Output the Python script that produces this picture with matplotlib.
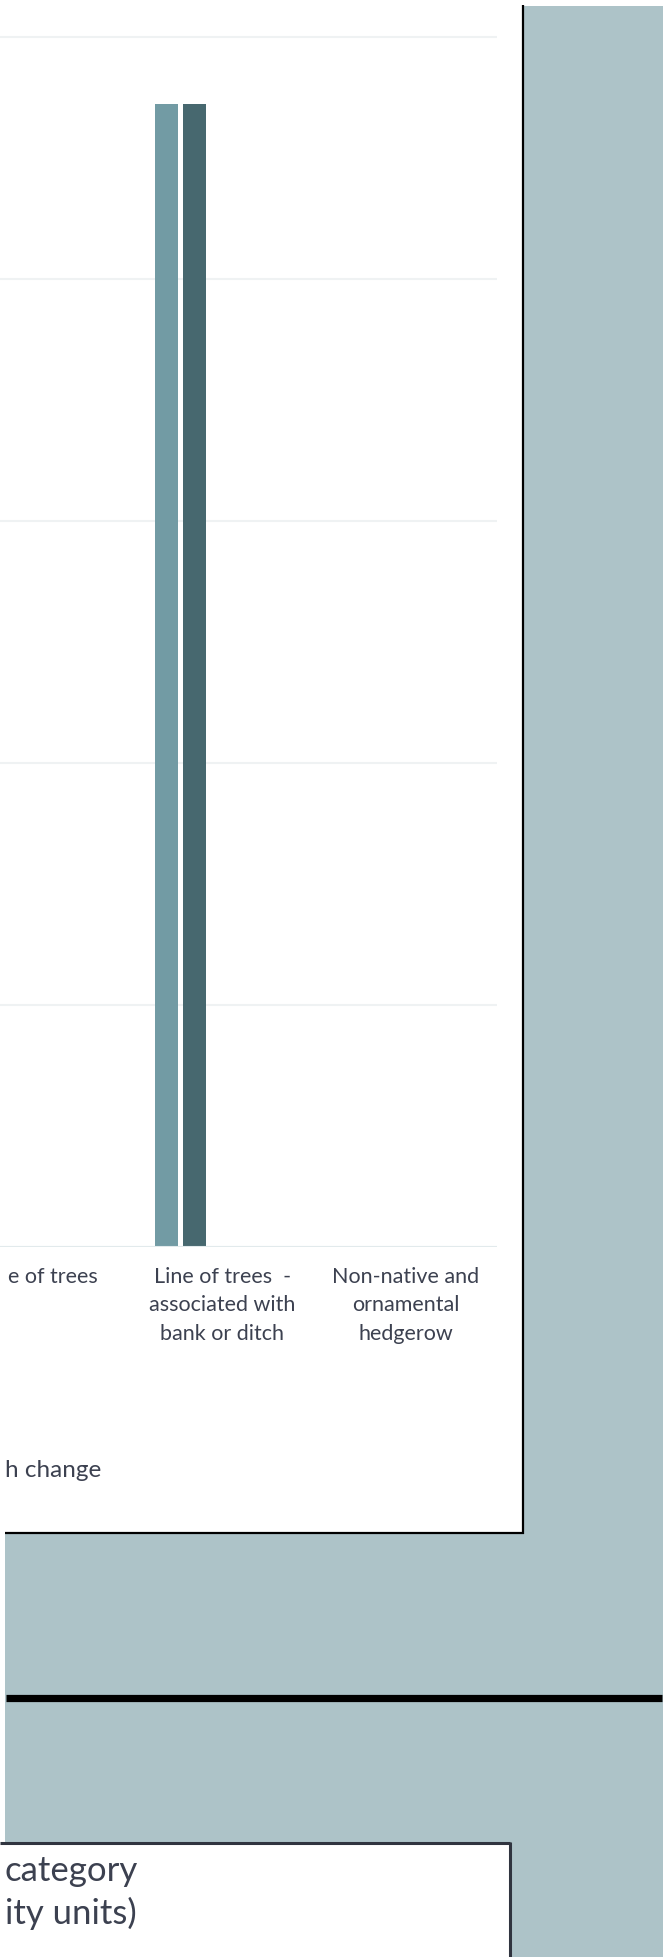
import matplotlib.pyplot as plt
import matplotlib.patches as mpatches
import numpy as np

plt.rcParams['font.family'] = ['Lato', 'DejaVu Sans']

# --- data (only the visible part of the cropped chart) ---
categories = ["e of trees",
              "Line of trees  -\nassociated with\nbank or ditch",
              "Non-native and\nornamental\nhedgerow"]
series_a = [0, 4.72, 0]
series_b = [0, 4.72, 0]
series_c = [0, 0, 0]
series_d = [0, 0, 0]
series_e = [0, 0, 0]
y_ticks = [0, 1, 2, 3, 4, 5]
legend_tail = "h change"
title_tail = ["category", "ity units)"]

W, H = 663, 1958
DPI = 100
TXT = '#3c4150'
BG = '#adc3c8'

fig = plt.figure(figsize=(W / DPI, H / DPI), dpi=DPI, facecolor='white')

# page background drawn in pixel coordinates
bg = fig.add_axes([0, 0, 1, 1])
bg.set_xlim(0, W)
bg.set_ylim(H, 0)
bg.axis('off')
bg.add_patch(mpatches.Rectangle((5, 7), W - 5, H - 7, color=BG, lw=0))
bg.add_patch(mpatches.Rectangle((0, 0), 522, 1533, color='white', lw=0))
bg.plot([523, 523], [6, 1535], color='black', lw=1.6, solid_capstyle='butt')
bg.plot([5, 524], [1534, 1534], color='black', lw=1.6, solid_capstyle='butt')
bg.plot([6, 662], [1698.5, 1698.5], color='black', lw=5.2, solid_capstyle='butt')
bg.add_patch(mpatches.Rectangle((0, 1844), 509, H - 1844, color='white', lw=0))
bg.plot([0, 510], [1843.5, 1843.5], color='#30343f', lw=2.2, solid_capstyle='butt')
bg.plot([509.5, 509.5], [1843, H], color='#30343f', lw=2.2, solid_capstyle='butt')

bg.text(5, 1477, legend_tail, fontsize=17.5, color=TXT, va='baseline', ha='left')
bg.text(5, 1881, title_tail[0], fontsize=25, color=TXT, va='baseline', ha='left')
bg.text(5, 1924, title_tail[1], fontsize=25, color=TXT, va='baseline', ha='left')

# chart axes: x unit = 183 px, category 2.5 edge at x=497 px; y=0 at 1247.5 px, 242 px per unit
px_unit = 183
x_right = 497
ax_left = x_right - 3 * px_unit
base_y = 1247.5
top_y = 20
y_unit = 242
ymax = (base_y - top_y) / y_unit
ax = fig.add_axes([ax_left / W, (H - base_y) / H, (x_right - ax_left) / W, (base_y - top_y) / H])
ax.set_facecolor('none')

x = np.arange(len(categories))
slot = 28 / px_unit
bw = 23 / px_unit
colors = ['#729ba4', '#47686f', '#8fb0b7', '#2f4a50', '#b9cdd1']
for i, vals in enumerate([series_a, series_b, series_c, series_d, series_e]):
    ax.bar(x + (i - 2) * slot, vals, width=bw, color=colors[i], zorder=2)

ax.set_xlim(-0.5, 2.5)
ax.set_ylim(0, ymax)
ax.set_yticks(y_ticks)
ax.yaxis.grid(True, color='#eff2f3', lw=1.5)
ax.set_axisbelow(True)
ax.axhline(0, color='#e2eaec', lw=1.5, zorder=3)
ax.tick_params(axis='y', length=0, labelleft=False)
ax.set_xticks(x)
# first category is cut by the left edge of the page; draw its visible tail separately
ax.set_xticklabels([""] + categories[1:], fontsize=15.5, color=TXT, linespacing=1.53)
ax.tick_params(axis='x', length=0, pad=14)
for s in ax.spines.values():
    s.set_visible(False)
bg.text(98, base_y + 14 * DPI / 72, categories[0], fontsize=15.5, color=TXT,
        ha='right', va='top')

fig.savefig('out.png', dpi=DPI, facecolor='white')
